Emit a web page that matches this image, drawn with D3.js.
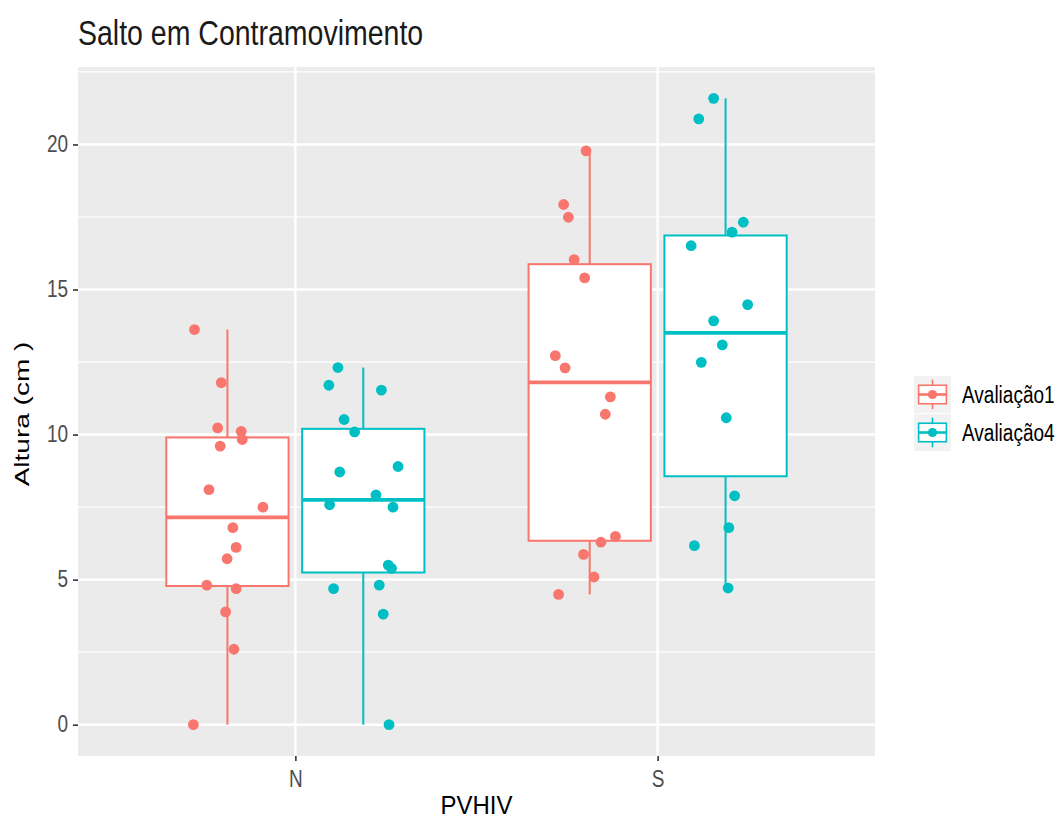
<!DOCTYPE html>
<html lang="pt">
<head>
<meta charset="UTF-8">
<title>Salto em Contramovimento</title>
<script src="https://d3js.org/d3.v7.min.js"></script>
<style>
  body { margin: 0; background: #fff; }
  svg { display: block; font-family: "Liberation Sans", Arial, sans-serif; }
</style>
</head>
<body>
<svg id="chart" width="1063" height="821"></svg>
<script>
const groups = ["N", "S"];
const series = ["Avaliação1", "Avaliação4"];
const colors = ["#F8766D", "#00BFC4"];
const yTicks = [0, 5, 10, 15, 20];

// heights (cm)
const nAval1 = [13.62, 11.79, 10.23, 10.11, 9.83, 9.60, 8.10, 7.50, 6.79, 6.11, 5.72, 4.81, 4.69, 3.89, 2.60, 0.00];
const nAval4 = [12.31, 11.70, 11.53, 10.52, 10.09, 8.71, 8.90, 7.92, 7.58, 7.50, 5.50, 5.39, 4.69, 4.81, 3.81, 0.00];
const sAval1 = [19.78, 17.93, 17.49, 16.03, 15.40, 12.72, 12.30, 11.30, 10.70, 6.49, 6.29, 5.87, 5.09, 4.49];
const sAval4 = [21.59, 20.88, 17.32, 16.98, 16.51, 14.48, 13.92, 13.09, 12.49, 10.58, 7.89, 6.79, 6.17, 4.71];

// horizontal jitter of each point, in category units (as seen in the picture)
const nAval1Jit = [-0.091, -0.017, -0.027, 0.038, 0.041, -0.020, -0.051, 0.098, 0.015, 0.024, -0.001, -0.057, 0.024, -0.005, 0.018, -0.094];
const nAval4Jit = [-0.070, -0.095, 0.050, -0.053, -0.024, -0.065, 0.096, 0.035, -0.093, 0.082, 0.069, 0.078, -0.082, 0.044, 0.055, 0.071];
const sAval1Jit = [-0.010, -0.072, -0.059, -0.043, -0.014, -0.095, -0.068, 0.057, 0.043, 0.071, 0.031, -0.017, 0.012, -0.086];
const sAval4Jit = [-0.033, -0.074, 0.049, 0.018, -0.095, 0.061, -0.033, -0.009, -0.067, 0.002, 0.025, 0.009, -0.086, 0.007];

const cells = [
  { group: 0, serie: 0, values: nAval1, jitter: nAval1Jit },
  { group: 0, serie: 1, values: nAval4, jitter: nAval4Jit },
  { group: 1, serie: 0, values: sAval1, jitter: sAval1Jit },
  { group: 1, serie: 1, values: sAval4, jitter: sAval4Jit }
];

const panel = { left: 78, right: 875, top: 67, bottom: 756 };
const dodge = 0.75, boxWidth = 0.3375;

const svg = d3.select("#chart");

const x = d3.scaleLinear()
  .domain([0.4, groups.length + 0.6])
  .range([panel.left, panel.right]);

const allValues = cells.flatMap(c => c.values);
const [lo, hi] = d3.extent(allValues);
const pad = (hi - lo) * 0.05;
const y = d3.scaleLinear()
  .domain([lo - pad, hi + pad])
  .range([panel.bottom, panel.top]);

const center = c => (c.group + 1) + (c.serie - 0.5) * dodge / 2;

// panel background + grid
svg.append("rect")
  .attr("x", panel.left).attr("y", panel.top)
  .attr("width", panel.right - panel.left)
  .attr("height", panel.bottom - panel.top)
  .attr("fill", "#EBEBEB");

const minor = yTicks.slice(0, -1).map((t, i) => (t + yTicks[i + 1]) / 2);
const step = yTicks[1] - yTicks[0];
[yTicks[0] - step / 2, yTicks[yTicks.length - 1] + step / 2].forEach(v => {
  if (v > y.domain()[0] && v < y.domain()[1]) minor.push(v);
});

svg.append("g").selectAll("line")
  .data(minor)
  .join("line")
  .attr("x1", panel.left).attr("x2", panel.right)
  .attr("y1", d => y(d)).attr("y2", d => y(d))
  .attr("stroke", "#fff").attr("stroke-width", 1.2);

svg.append("g").selectAll("line")
  .data(yTicks)
  .join("line")
  .attr("x1", panel.left).attr("x2", panel.right)
  .attr("y1", d => y(d)).attr("y2", d => y(d))
  .attr("stroke", "#fff").attr("stroke-width", 2.4);

svg.append("g").selectAll("line")
  .data(groups)
  .join("line")
  .attr("x1", (d, i) => x(i + 1)).attr("x2", (d, i) => x(i + 1))
  .attr("y1", panel.top).attr("y2", panel.bottom)
  .attr("stroke", "#fff").attr("stroke-width", 2.4);

// box statistics (same quantiles as R)
cells.forEach(c => {
  const s = c.values.slice().sort(d3.ascending);
  const q1 = d3.quantile(s, 0.25), med = d3.quantile(s, 0.5), q3 = d3.quantile(s, 0.75);
  const iqr = q3 - q1;
  c.q1 = q1; c.med = med; c.q3 = q3;
  c.wLo = d3.min(s.filter(v => v >= q1 - 1.5 * iqr));
  c.wHi = d3.max(s.filter(v => v <= q3 + 1.5 * iqr));
});

const boxes = svg.append("g").selectAll("g")
  .data(cells)
  .join("g")
  .attr("stroke", c => colors[c.serie]);

boxes.append("line")
  .attr("x1", c => x(center(c))).attr("x2", c => x(center(c)))
  .attr("y1", c => y(c.q3)).attr("y2", c => y(c.wHi))
  .attr("stroke-width", 2);
boxes.append("line")
  .attr("x1", c => x(center(c))).attr("x2", c => x(center(c)))
  .attr("y1", c => y(c.q1)).attr("y2", c => y(c.wLo))
  .attr("stroke-width", 2);
boxes.append("rect")
  .attr("x", c => x(center(c) - boxWidth / 2))
  .attr("width", c => x(center(c) + boxWidth / 2) - x(center(c) - boxWidth / 2))
  .attr("y", c => y(c.q3))
  .attr("height", c => y(c.q1) - y(c.q3))
  .attr("fill", "#fff")
  .attr("stroke-width", 2);
boxes.append("line")
  .attr("x1", c => x(center(c) - boxWidth / 2))
  .attr("x2", c => x(center(c) + boxWidth / 2))
  .attr("y1", c => y(c.med)).attr("y2", c => y(c.med))
  .attr("stroke-width", 3.6);

// jittered points
const points = cells.flatMap(c => c.values.map((v, i) => ({ c, v, j: c.jitter[i] })));
svg.append("g").selectAll("circle")
  .data(points)
  .join("circle")
  .attr("cx", d => x(center(d.c) + d.j))
  .attr("cy", d => y(d.v))
  .attr("r", 5.4)
  .attr("fill", d => colors[d.c.serie]);

// axes
const yAxis = svg.append("g")
  .attr("transform", `translate(${panel.left},0)`)
  .call(d3.axisLeft(y).tickValues(yTicks).tickSize(5).tickPadding(5));
const xAxis = svg.append("g")
  .attr("transform", `translate(0,${panel.bottom})`)
  .call(d3.axisBottom(x).tickValues(groups.map((g, i) => i + 1))
    .tickFormat(d => groups[d - 1]).tickSize(5).tickPadding(6.2));

[yAxis, xAxis].forEach(a => {
  a.select(".domain").remove();
  a.selectAll(".tick line").attr("stroke", "#333").attr("stroke-width", 1.6);
  a.selectAll(".tick text")
    .attr("fill", "#4D4D4D")
    .style("font-size", "19px")
    .attr("font-family", null);
});
yAxis.selectAll(".tick text").attr("transform", "scale(1,1.3)").attr("y", 0).attr("dy", "0.28em");
xAxis.selectAll(".tick text").attr("transform", "scale(1,1.25)");

// titles
svg.append("text")
  .attr("transform", `translate(${panel.left},45) scale(1,1.2)`)
  .style("font-size", "28.5px")
  .attr("fill", "#1a1a1a")
  .text("Salto em Contramovimento");

svg.append("text")
  .attr("transform", `translate(${(panel.left + panel.right) / 2},814) scale(1,1.1)`)
  .attr("text-anchor", "middle")
  .style("font-size", "24px")
  .attr("fill", "#000")
  .text("PVHIV");

svg.append("text")
  .attr("transform", `translate(29,414) scale(1,1.4) rotate(-90)`)
  .attr("text-anchor", "middle")
  .style("font-size", "20px")
  .attr("fill", "#000")
  .text("Altura (cm )");

// legend
const keySize = 37;
const legend = svg.append("g").attr("transform", "translate(914,376)");
const keys = legend.selectAll("g")
  .data(series)
  .join("g")
  .attr("transform", (d, i) => `translate(0,${i * (keySize + 1)})`);

keys.append("rect")
  .attr("width", keySize).attr("height", keySize)
  .attr("fill", "#F2F2F2");
keys.append("line")
  .attr("x1", keySize / 2).attr("x2", keySize / 2)
  .attr("y1", keySize * 0.1).attr("y2", keySize * 0.9)
  .attr("stroke", (d, i) => colors[i]).attr("stroke-width", 1.6);
keys.append("rect")
  .attr("x", keySize * 0.125).attr("y", keySize * 0.25)
  .attr("width", keySize * 0.75).attr("height", keySize * 0.5)
  .attr("fill", "#fff")
  .attr("stroke", (d, i) => colors[i]).attr("stroke-width", 1.6);
keys.append("line")
  .attr("x1", keySize * 0.125).attr("x2", keySize * 0.875)
  .attr("y1", keySize / 2).attr("y2", keySize / 2)
  .attr("stroke", (d, i) => colors[i]).attr("stroke-width", 2.6);
keys.append("circle")
  .attr("cx", keySize / 2).attr("cy", keySize / 2).attr("r", 4.6)
  .attr("fill", (d, i) => colors[i]);
keys.append("text")
  .attr("transform", `translate(${keySize + 11},${keySize / 2}) scale(1,1.25)`)
  .attr("dy", "0.36em")
  .style("font-size", "19px")
  .attr("fill", "#000")
  .text(d => d);
</script>
</body>
</html>
